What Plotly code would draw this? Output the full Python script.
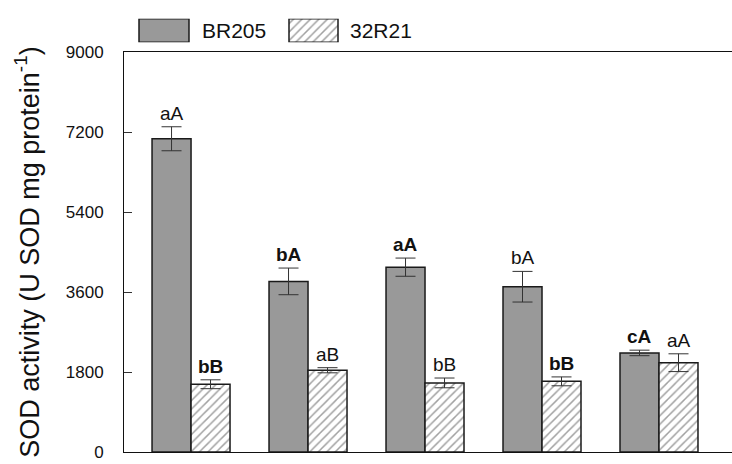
import plotly.graph_objects as go

# SOD activity for two cultivars across five treatments
treatments = [0, 1, 2, 3, 4]
br205 = [7050, 3840, 4160, 3720, 2230]
br205_err = [270, 300, 205, 345, 62]
r3221 = [1525, 1840, 1555, 1590, 2010]
r3221_err = [100, 58, 110, 100, 200]

# significance letters (bold where the difference is highlighted)
br205_lbl = ["aA", "bA", "aA", "bA", "cA"]
br205_bold = [False, True, True, False, True]
r3221_lbl = ["bB", "aB", "bB", "bB", "aA"]
r3221_bold = [True, False, False, True, False]

series_names = ["BR205", "32R21"]
y_ticks = [0, 1800, 3600, 5400, 7200, 9000]

W, H = 732, 464
ML, MB = 124, 12
plot_h = H - MB
top_px = 44
FONT = "Liberation Sans, Arial, sans-serif"
OUTLINE = dict(color="#1a1a1a", width=1.5)
HATCH = dict(shape="/", fgcolor="#444444", bgcolor="white", size=6, solidity=0.25)

fig = go.Figure()

fig.add_trace(go.Bar(
    x=treatments, y=br205, name=series_names[0],
    marker=dict(color="#999999", line=OUTLINE),
    error_y=dict(type="data", array=br205_err, color="#333333", thickness=1, width=10),
    showlegend=False,
))
fig.add_trace(go.Bar(
    x=treatments, y=r3221, name=series_names[1],
    marker=dict(color="white", line=OUTLINE, pattern=HATCH),
    error_y=dict(type="data", array=r3221_err, color="#333333", thickness=1, width=10),
    showlegend=False,
))

bargap = 1 / 3
half = (1 - bargap) / 4  # offset of each bar centre from the group centre


def label(txt, bold):
    return f"<b>{txt}</b>" if bold else txt


annotations = []
for i, t in enumerate(treatments):
    for off, vals, errs, lbls, bolds in (
        (-half, br205, br205_err, br205_lbl, br205_bold),
        (half, r3221, r3221_err, r3221_lbl, r3221_bold),
    ):
        annotations.append(dict(
            x=t + off, y=vals[i] + errs[i], xref="x", yref="y",
            text=label(lbls[i], bolds[i]), showarrow=False,
            yanchor="bottom", yshift=1,
            font=dict(family=FONT, size=19, color="#111111"),
        ))

# legend swatches drawn on a small overlay axis above the plot
leg_x = [164, 313.5]
leg_w = [50, 49]
fig.add_trace(go.Bar(
    x=[leg_x[0]], y=[1], width=[leg_w[0]], xaxis="x2", yaxis="y2",
    marker=dict(color="#999999", line=OUTLINE), showlegend=False, hoverinfo="skip",
))
fig.add_trace(go.Bar(
    x=[leg_x[1]], y=[1], width=[leg_w[1]], xaxis="x2", yaxis="y2",
    marker=dict(color="white", line=OUTLINE, pattern=HATCH), showlegend=False, hoverinfo="skip",
))
for name, lx in zip(series_names, [200, 348]):
    annotations.append(dict(
        x=lx, y=0.5, xref="x2", yref="y2", text=name, showarrow=False,
        xanchor="left", yanchor="middle",
        font=dict(family=FONT, size=21, color="#111111"),
    ))

fig.update_layout(
    width=W, height=H,
    margin=dict(l=ML, r=0, t=0, b=MB, pad=0),
    paper_bgcolor="white", plot_bgcolor="white",
    barmode="group", bargap=bargap, bargroupgap=0,
    font=dict(family=FONT, color="#111111"),
    annotations=annotations,
    xaxis=dict(
        range=[-0.573, 4.624], showticklabels=False, ticks="",
        showgrid=False, zeroline=False,
        showline=True, linecolor="#111111", linewidth=1, mirror=True,
    ),
    yaxis=dict(
        range=[0, 9000], domain=[0, (plot_h - top_px) / plot_h],
        tickvals=y_ticks, ticktext=[str(v) for v in y_ticks],
        ticks="inside", ticklen=8, tickcolor="#333333",
        ticklabelstandoff=16,
        tickfont=dict(family=FONT, size=17, color="#111111"),
        showgrid=False, zeroline=False,
        showline=True, linecolor="#111111", linewidth=1,
        title=dict(text="SOD activity (U SOD mg protein<sup>-1</sup>)",
                   font=dict(family=FONT, size=27, color="#111111"), standoff=18),
    ),
    xaxis2=dict(domain=[0, 1], range=[ML, W], anchor="y2", visible=False, fixedrange=True),
    yaxis2=dict(domain=[(plot_h - 34) / plot_h, (plot_h - 10) / plot_h],
                range=[0, 1], anchor="x2", visible=False, fixedrange=True),
)

fig.write_html("out.html")
